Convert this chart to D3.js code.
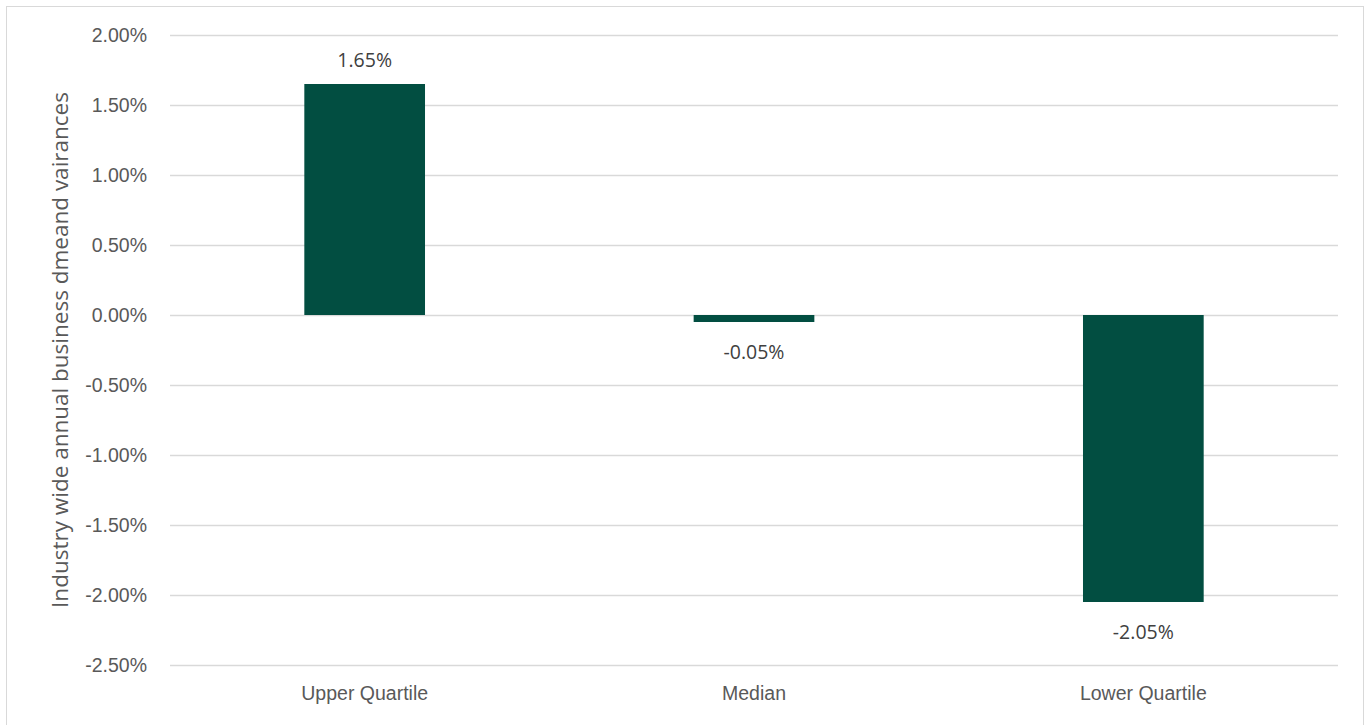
<!DOCTYPE html>
<html>
<head>
<meta charset="utf-8">
<script src="https://cdn.jsdelivr.net/npm/d3@7"></script>
<style>
  body { margin: 0; background: #fff; }
  svg { display: block; font-family: "Open Sans", "Liberation Sans", sans-serif; }
</style>
</head>
<body>
<svg id="chart" width="1370" height="725"></svg>
<script>
const categories = ["Upper Quartile", "Median", "Lower Quartile"];
const values = [0.0165, -0.0005, -0.0205];
const yTicks = [0.02, 0.015, 0.01, 0.005, 0, -0.005, -0.01, -0.015, -0.02, -0.025];
const yTitle = "Industry wide annual business dmeand vairances";

const svg = d3.select("#chart"),
  width = +svg.attr("width"),
  height = +svg.attr("height");

const margin = { top: 35, right: 32, bottom: 60, left: 170 };

// chart border
svg.append("rect")
  .attr("x", 6.5).attr("y", 6.5)
  .attr("width", width - 13).attr("height", height)
  .attr("fill", "none").attr("stroke", "#d9d9d9");

const x = d3.scaleBand()
  .domain(categories)
  .range([margin.left, width - margin.right])
  .paddingInner(0.69)
  .paddingOuter(0.345);

const y = d3.scaleLinear()
  .domain([-0.025, 0.02])
  .range([height - margin.bottom, margin.top]);

// excel style: plain hyphen for negatives
const fmt = d => d3.format(".2%")(d).replace("\u2212", "-");

// gridlines
svg.append("g")
  .selectAll("line")
  .data(yTicks)
  .enter()
  .append("line")
  .attr("x1", margin.left)
  .attr("x2", width - margin.right)
  .attr("y1", d => Math.round(y(d)) + 0.5)
  .attr("y2", d => Math.round(y(d)) + 0.5)
  .attr("stroke", "#d9d9d9")
  .attr("stroke-width", 1.3);

// y axis labels
const yAxis = d3.axisLeft(y).tickValues(yTicks).tickFormat(fmt).tickSize(0).tickPadding(23);
const ya = svg.append("g")
  .attr("transform", "translate(" + margin.left + ",0)")
  .call(yAxis);
ya.select(".domain").remove();
ya.selectAll("text")
  .attr("fill", "#595959")
  .style("font-size", "19.5px");

// bars
svg.append("g")
  .selectAll("rect")
  .data(values)
  .enter()
  .append("rect")
  .attr("x", (d, i) => x(categories[i]))
  .attr("width", x.bandwidth())
  .attr("y", d => y(Math.max(0, d)))
  .attr("height", d => Math.abs(y(d) - y(0)))
  .attr("fill", "#024e41");

// data labels
svg.append("g")
  .selectAll("text")
  .data(values)
  .enter()
  .append("text")
  .attr("x", (d, i) => x(categories[i]) + x.bandwidth() / 2)
  .attr("y", d => d >= 0 ? y(d) - 17 : y(d) + 37)
  .attr("text-anchor", "middle")
  .attr("fill", "#404040")
  .style("font-size", "19.5px")
  .text(d => fmt(d));

// category labels
const xa = svg.append("g")
  .attr("transform", "translate(0," + (height - margin.bottom) + ")")
  .call(d3.axisBottom(x).tickSize(0).tickPadding(21));
xa.select(".domain").remove();
xa.selectAll("text")
  .attr("fill", "#595959")
  .style("font-size", "19.5px");

// y title
svg.append("text")
  .attr("transform", "translate(68," + (margin.top + (height - margin.bottom - margin.top) / 2 + 0) + ") rotate(-90)")
  .attr("text-anchor", "middle")
  .attr("fill", "#595959")
  .style("font-size", "22.5px")
  .text(yTitle);
</script>
</body>
</html>
